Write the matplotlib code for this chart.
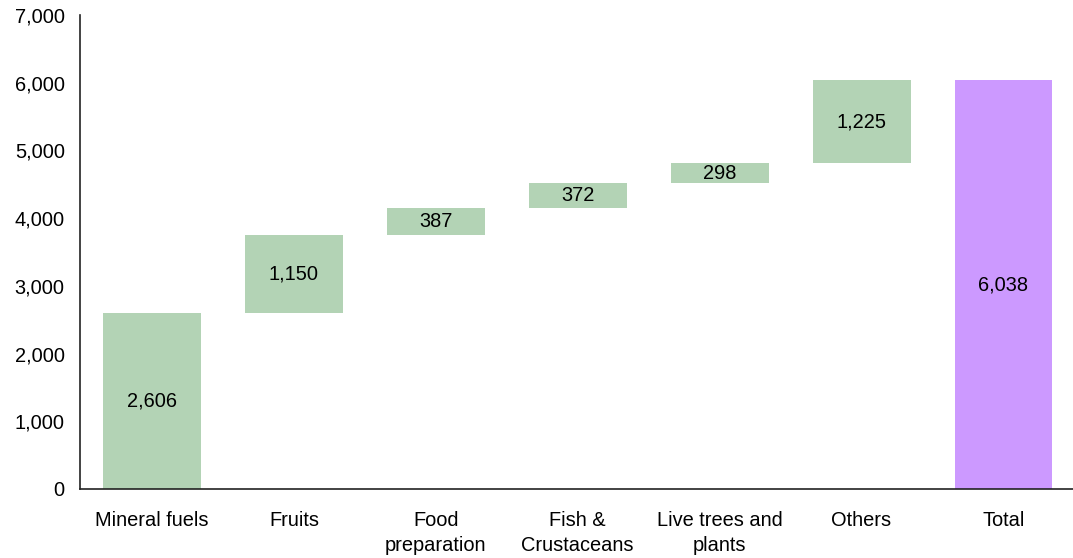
import numpy as np
import matplotlib.pyplot as plt

plt.rcParams['font.family'] = ['Liberation Sans', 'DejaVu Sans']

categories = ["Mineral fuels", "Fruits", "Food\npreparation", "Fish &\nCrustaceans",
              "Live trees and\nplants", "Others", "Total"]
steps = [2606, 1150, 387, 372, 298, 1225]
total = 6038

green = "#b3d3b5"
purple = "#cc99ff"

heights = steps + [total]
bottoms = list(np.concatenate([[0], np.cumsum(steps)[:-1]])) + [0]
colors = [green] * len(steps) + [purple]

fig = plt.figure(figsize=(10.73, 5.58), dpi=100)
ax = fig.add_axes([0.0746, 0.1237, 0.9254, 0.8495])

x = np.arange(len(categories))
ax.bar(x, heights, bottom=bottoms, width=0.69, color=colors)

for xi, h, b in zip(x, heights, bottoms):
    ax.text(xi, b + h / 2, f"{h:,}", ha="center", va="center", fontsize=14.4, color="black")

ax.set_xlim(-0.507, 6.49)
ax.set_ylim(0, 7000)
ax.set_yticks(np.arange(0, 7001, 1000))
ax.yaxis.set_major_formatter(plt.FuncFormatter(lambda v, p: f"{int(v):,}"))
ax.set_xticks(x)
ax.set_xticklabels(categories, linespacing=1.4)
ax.tick_params(axis="both", length=0, labelsize=14.4, colors="black")
ax.tick_params(axis="y", pad=11)
ax.tick_params(axis="x", pad=16)
for s in ["top", "right"]:
    ax.spines[s].set_visible(False)
for s in ["left", "bottom"]:
    ax.spines[s].set_color("#222222")
    ax.spines[s].set_linewidth(1.2)

fig.savefig("out.png", dpi=100)
